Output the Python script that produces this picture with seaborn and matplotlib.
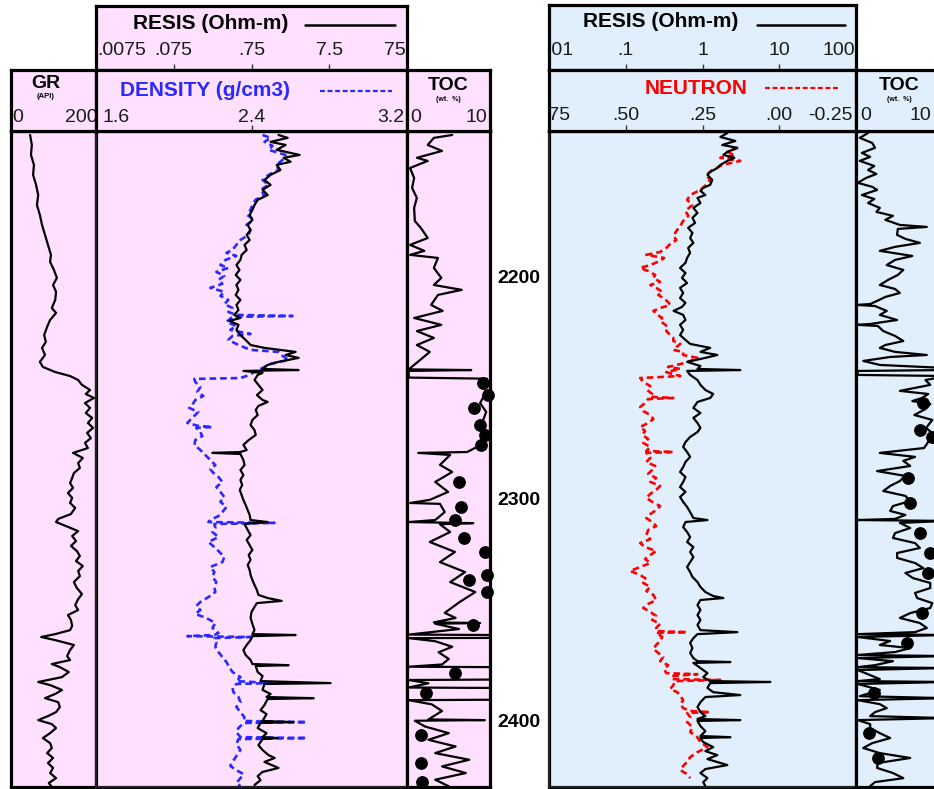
import matplotlib
matplotlib.use("Agg")
import matplotlib.pyplot as plt
import matplotlib.transforms as mtransforms
from matplotlib.ticker import NullLocator
import seaborn as sns

# ---------------- data (depth in m) ----------------
gr_depth = [2135.0, 2139.5, 2144.0, 2148.5, 2153.0, 2157.5, 2162.1, 2166.6, 2171.1, 2175.6,
            2180.1, 2184.6, 2189.1, 2192.3, 2195.9, 2199.5, 2202.7, 2205.8, 2209.5, 2213.1,
            2215.3, 2218.5, 2221.6, 2225.3, 2228.4, 2231.1, 2234.3, 2237.4, 2239.7, 2242.0,
            2243.8, 2245.6, 2247.8, 2250.1, 2251.9, 2253.7, 2256.0, 2258.2, 2260.5, 2262.7,
            2265.0, 2267.2, 2269.5, 2271.8, 2274.0, 2276.3, 2278.5, 2280.8, 2283.1, 2285.3,
            2287.6, 2289.8, 2292.1, 2294.3, 2296.6, 2298.8, 2301.1, 2303.3, 2306.1, 2308.3,
            2309.7, 2311.5, 2313.8, 2316.0, 2318.3, 2320.5, 2322.8, 2325.0, 2327.3, 2329.6,
            2331.8, 2334.1, 2336.8, 2339.5, 2342.2, 2344.5, 2347.2, 2349.4, 2351.7, 2353.9,
            2356.6, 2358.5, 2360.3, 2361.6, 2363.0, 2365.2, 2367.5, 2370.2, 2372.0, 2373.8,
            2375.2, 2377.4, 2379.7, 2381.9, 2383.3, 2385.5, 2387.3, 2389.2, 2391.0, 2393.2,
            2395.5, 2397.3, 2399.1, 2400.9, 2402.7, 2405.0, 2407.2, 2409.5, 2411.7, 2414.0,
            2416.2, 2418.5, 2420.7, 2423.0, 2425.3, 2427.5, 2429.3]
gr_api = [45, 49, 47, 54, 52, 59, 64, 61, 68, 73,
          80, 87, 94, 92, 101, 108, 99, 106, 104, 96,
          106, 92, 85, 78, 82, 73, 80, 68, 75, 104,
          139, 158, 167, 186, 176, 195, 174, 186, 176, 191,
          181, 193, 179, 188, 174, 181, 146, 169, 158, 162,
          148, 144, 139, 146, 134, 144, 139, 151, 141, 111,
          106, 129, 158, 144, 153, 141, 155, 162, 153, 169,
          158, 162, 148, 155, 167, 158, 151, 158, 134, 141,
          144, 139, 104, 71, 104, 148, 139, 132, 139, 96,
          115, 136, 120, 64, 92, 120, 104, 80, 111, 115,
          106, 87, 64, 96, 106, 92, 75, 92, 96, 85,
          99, 87, 99, 92, 106, 89, 96]

res_l_depth = [2135.0, 2136.3, 2138.1, 2139.5, 2141.7, 2144.0, 2145.3, 2147.1, 2148.5, 2150.8,
               2153.0, 2155.3, 2157.5, 2159.8, 2162.1, 2164.3, 2166.6, 2168.8, 2171.1, 2173.3,
               2175.6, 2177.9, 2180.1, 2182.4, 2184.6, 2186.9, 2189.1, 2191.4, 2193.7, 2195.9,
               2198.2, 2200.4, 2202.7, 2204.9, 2207.2, 2209.5, 2211.7, 2214.0, 2216.2, 2217.6,
               2218.9, 2220.7, 2223.0, 2225.3, 2227.5, 2229.8, 2231.1, 2232.9, 2234.3, 2235.6,
               2237.4, 2238.8, 2240.6, 2241.1, 2241.5, 2242.4, 2243.3, 2245.6, 2247.8, 2250.1,
               2252.4, 2254.6, 2255.5, 2257.3, 2259.1, 2261.4, 2263.6, 2265.9, 2268.2, 2270.4,
               2272.7, 2274.9, 2277.2, 2278.1, 2278.5, 2279.0, 2281.7, 2284.0, 2286.2, 2288.5,
               2290.7, 2293.0, 2295.2, 2297.5, 2299.8, 2302.0, 2304.3, 2306.5, 2308.8, 2309.7,
               2310.6, 2313.3, 2315.6, 2317.8, 2320.1, 2322.3, 2324.6, 2326.8, 2329.1, 2331.4,
               2333.6, 2335.9, 2338.1, 2340.4, 2342.6, 2344.0, 2345.3, 2346.3, 2348.0, 2350.3,
               2353.0, 2355.7, 2358.5, 2360.3, 2360.7, 2361.2, 2363.0, 2365.2, 2367.5, 2369.7,
               2372.0, 2373.8, 2374.3, 2374.7, 2377.4, 2379.2, 2381.5, 2382.4, 2382.8, 2385.5,
               2387.3, 2388.7, 2389.2, 2389.6, 2392.3, 2394.6, 2396.4, 2399.5, 2400.0, 2400.4,
               2402.7, 2405.0, 2406.8, 2407.2, 2407.7, 2410.4, 2412.6, 2414.9, 2416.2, 2418.0,
               2420.7, 2422.5, 2424.4, 2426.2, 2428.4]
res_l_ohmm = [1.67, 2.19, 1.32, 2.06, 1.58, 3.12, 1.94, 2.39, 1.58, 1.77,
              1.32, 1.10, 1.32, 1.04, 1.21, 0.90, 0.82, 0.77, 0.71, 0.77,
              0.67, 0.73, 0.65, 0.71, 0.61, 0.65, 0.56, 0.54, 0.48, 0.525,
              0.47, 0.54, 0.48, 0.51, 0.47, 0.54, 0.48, 0.51, 0.45, 0.54,
              0.39, 0.51, 0.48, 0.54, 0.63, 0.73, 1.10, 2.77, 2.06, 3.03,
              1.67, 1.21, 1.04, 3.03, 0.59, 1.04, 0.90, 0.82, 0.92, 1.04,
              0.88, 1.04, 1.21, 0.92, 0.85, 0.90, 0.77, 0.73, 0.82, 0.85,
              0.69, 0.59, 0.65, 0.54, 0.235, 0.54, 0.59, 0.61, 0.54, 0.59,
              0.54, 0.57, 0.53, 0.56, 0.59, 0.63, 0.67, 0.71, 0.73, 1.21,
              0.61, 0.67, 0.73, 0.65, 0.71, 0.77, 0.69, 0.73, 0.67, 0.71,
              0.73, 0.77, 0.82, 0.88, 0.92, 1.21, 1.83, 0.88, 0.82, 0.75,
              0.73, 0.77, 0.82, 0.77, 2.77, 0.77, 0.73, 0.65, 0.59, 0.63,
              0.73, 0.77, 2.25, 0.85, 0.90, 1.04, 0.98, 7.8, 1.10, 1.04,
              1.32, 1.17, 4.73, 1.21, 1.10, 0.98, 1.17, 1.04, 2.61, 0.98,
              0.90, 1.17, 1.04, 1.62, 1.04, 0.92, 1.04, 1.24, 1.49, 1.10,
              1.67, 1.04, 0.90, 0.98, 0.82]

den_depth = [2135.0, 2136.3, 2138.1, 2139.9, 2141.7, 2144.0, 2146.2, 2148.5, 2150.8, 2153.0,
             2155.3, 2157.5, 2159.8, 2162.1, 2164.3, 2166.6, 2168.8, 2171.1, 2173.3, 2175.6,
             2177.9, 2180.1, 2182.4, 2184.6, 2186.9, 2188.2, 2189.6, 2191.4, 2193.7, 2195.0,
             2196.8, 2198.6, 2200.4, 2202.2, 2204.0, 2205.8, 2207.6, 2209.5, 2211.3, 2213.1,
             2214.9, 2216.2, 2216.7, 2217.1, 2219.4, 2221.2, 2223.0, 2224.8, 2225.7, 2227.5,
             2229.8, 2232.0, 2232.9, 2234.7, 2236.5, 2238.3, 2241.1, 2243.8, 2244.7, 2245.1,
             2246.5, 2248.7, 2251.0, 2252.8, 2254.6, 2256.9, 2258.2, 2260.0, 2261.8, 2263.6,
             2265.0, 2266.3, 2266.8, 2267.2, 2269.1, 2270.9, 2272.7, 2274.9, 2277.2, 2279.4,
             2281.7, 2284.0, 2285.8, 2287.1, 2289.4, 2291.6, 2293.9, 2296.1, 2298.4, 2300.6,
             2302.9, 2305.2, 2307.0, 2308.8, 2309.7, 2310.1, 2310.6, 2312.4, 2314.2, 2316.5,
             2318.7, 2321.0, 2323.2, 2325.5, 2327.8, 2330.0, 2332.3, 2334.5, 2336.8, 2339.0,
             2341.3, 2343.6, 2345.8, 2347.6, 2349.4, 2351.2, 2353.0, 2355.3, 2357.5, 2359.8,
             2360.7, 2361.2, 2361.6, 2362.1, 2363.9, 2366.1, 2368.4, 2370.6, 2372.9, 2375.2,
             2377.4, 2379.7, 2381.5, 2382.4, 2382.8, 2384.6, 2386.5, 2388.7, 2391.0, 2393.2,
             2395.5, 2397.8, 2399.5, 2400.0, 2400.4, 2402.7, 2404.5, 2406.8, 2407.2, 2407.7,
             2409.9, 2412.6, 2415.4, 2418.0, 2419.8, 2421.7, 2423.5, 2425.3, 2427.5, 2428.9]
den_gcc = [2.457, 2.498, 2.467, 2.508, 2.488, 2.575, 2.560, 2.529, 2.539, 2.488,
           2.457, 2.488, 2.446, 2.467, 2.420, 2.405, 2.395, 2.379, 2.410, 2.374,
           2.395, 2.384, 2.343, 2.322, 2.302, 2.271, 2.322, 2.266, 2.240, 2.281,
           2.219, 2.260, 2.230, 2.250, 2.188, 2.260, 2.240, 2.281, 2.260, 2.302,
           2.281, 2.322, 2.611, 2.302, 2.271, 2.322, 2.291, 2.395, 2.302, 2.281,
           2.333, 2.395, 2.539, 2.560, 2.591, 2.498, 2.436, 2.374, 2.343, 2.106,
           2.111, 2.137, 2.121, 2.152, 2.111, 2.095, 2.080, 2.126, 2.106, 2.085,
           2.070, 2.126, 2.199, 2.116, 2.137, 2.147, 2.111, 2.106, 2.137, 2.162,
           2.188, 2.214, 2.188, 2.199, 2.230, 2.250, 2.219, 2.240, 2.260, 2.240,
           2.271, 2.250, 2.230, 2.188, 2.178, 2.518, 2.209, 2.214, 2.199, 2.230,
           2.178, 2.209, 2.235, 2.260, 2.250, 2.188, 2.209, 2.199, 2.219, 2.209,
           2.214, 2.178, 2.137, 2.116, 2.137, 2.111, 2.168, 2.214, 2.199, 2.230,
           2.209, 2.070, 2.395, 2.209, 2.219, 2.214, 2.230, 2.250, 2.271, 2.286,
           2.302, 2.343, 2.322, 2.503, 2.322, 2.302, 2.307, 2.333, 2.343, 2.322,
           2.343, 2.364, 2.359, 2.684, 2.359, 2.333, 2.322, 2.343, 2.684, 2.333,
           2.322, 2.343, 2.322, 2.302, 2.291, 2.322, 2.359, 2.343, 2.322, 2.343]

toc_l_depth = [2135.0, 2136.3, 2139.5, 2142.2, 2145.3, 2146.7, 2149.9, 2154.4, 2158.9, 2163.4,
               2167.9, 2173.8, 2177.0, 2181.5, 2184.6, 2187.3, 2189.1, 2190.5, 2195.0, 2199.5,
               2202.7, 2204.9, 2207.2, 2211.7, 2214.4, 2217.6, 2220.7, 2223.5, 2226.6, 2229.8,
               2232.9, 2236.5, 2240.8, 2241.1, 2241.5, 2244.5, 2245.0, 2246.5, 2251.0, 2256.0,
               2260.0, 2265.0, 2270.4, 2274.9, 2278.1, 2278.5, 2279.4, 2283.9, 2287.1, 2291.6,
               2296.1, 2299.7, 2301.1, 2301.5, 2305.2, 2308.8, 2309.7, 2310.2, 2310.7, 2314.2,
               2318.7, 2323.2, 2327.8, 2332.3, 2336.8, 2341.3, 2345.8, 2350.7, 2353.0, 2355.0,
               2355.3, 2355.6, 2358.0, 2360.5, 2360.7, 2362.0, 2362.1, 2363.5, 2366.0, 2368.5,
               2371.5, 2374.0, 2375.0, 2375.2, 2380.8, 2381.0, 2382.5, 2384.4, 2384.6, 2389.9,
               2390.1, 2392.0, 2395.0, 2398.8, 2399.1, 2399.4, 2402.0, 2405.0, 2408.0, 2411.0,
               2414.0, 2417.0, 2420.0, 2423.0, 2426.0, 2429.0]
toc_l_wt = [6.5, 3.8, 2.9, 5.0, 1.3, 2.9, 0.3, 0.9, 0.6, 1.3,
            0.9, 1.0, 1.9, 2.9, 0.3, 2.4, 0.3, 4.4, 3.8, 4.9,
            3.8, 7.9, 4.4, 3.4, 5.1, 0.9, 4.9, 1.3, 3.8, 1.3,
            3.2, 1.8, 0.1, 9.3, 0.1, 0.1, 11.6, 10.9, 11.5, 10.6,
            11.5, 10.9, 11.3, 10.7, 8.7, 1.5, 6.2, 4.7, 6.5, 4.0,
            5.9, 3.2, 0.3, 4.7, 5.4, 4.0, 0.1, 9.6, 4.7, 6.2,
            3.2, 6.9, 4.7, 8.4, 6.2, 9.9, 7.6, 5.4, 7.0, 3.8,
            10.6, 4.0, 7.5, 0.1, 13, 13, 0.1, 4.0, 6.5, 4.5,
            6.0, 5.0, 0.1, 13, 13, 0.1, 3.0, 0.1, 13, 13,
            0.1, 3.5, 5.0, 3.0, 11.3, 1.0, 2.5, 6.0, 3.0, 7.0,
            4.0, 9.0, 5.0, 8.5, 4.0, 6.0]

core_l_depth = [2246.9, 2252.3, 2258.2, 2265.9, 2270.4, 2274.9, 2291.6, 2302.9, 2308.8, 2316.9,
                2323.2, 2333.6, 2335.9, 2341.3, 2356.2, 2377.9, 2386.9, 2405.9, 2418.5, 2427.1]
core_l_toc = [11.0, 11.8, 9.7, 10.6, 11.3, 10.7, 7.5, 7.8, 6.9, 8.2,
              11.3, 11.6, 9.0, 11.6, 9.6, 6.9, 2.6, 1.9, 1.9, 2.1]

res_r_depth = [2134.1, 2135.9, 2137.7, 2139.5, 2140.8, 2142.6, 2144.0, 2145.3, 2146.7, 2148.5,
               2149.9, 2151.7, 2153.0, 2155.3, 2157.5, 2158.9, 2160.2, 2162.1, 2163.4, 2165.7,
               2167.9, 2170.2, 2172.4, 2174.7, 2176.9, 2179.2, 2181.5, 2183.7, 2186.0, 2188.2,
               2190.5, 2192.7, 2195.0, 2197.3, 2199.5, 2201.8, 2204.0, 2206.3, 2208.6, 2210.8,
               2212.6, 2214.4, 2216.2, 2218.5, 2220.7, 2223.0, 2225.3, 2227.5, 2229.3, 2231.1,
               2232.9, 2234.3, 2235.6, 2237.4, 2239.3, 2240.6, 2241.1, 2241.5, 2243.3, 2245.6,
               2247.8, 2250.1, 2251.9, 2253.7, 2255.5, 2258.2, 2260.5, 2262.7, 2265.0, 2267.2,
               2269.1, 2271.3, 2273.6, 2275.8, 2278.1, 2280.3, 2282.6, 2284.9, 2287.1, 2289.4,
               2291.6, 2293.9, 2296.1, 2298.4, 2300.6, 2302.9, 2305.2, 2307.9, 2308.8, 2309.7,
               2312.0, 2314.2, 2316.5, 2318.7, 2321.0, 2323.2, 2325.5, 2327.8, 2330.0, 2332.3,
               2334.5, 2336.8, 2339.0, 2341.3, 2343.1, 2344.0, 2344.9, 2347.2, 2349.4, 2351.7,
               2353.9, 2356.2, 2358.5, 2359.4, 2360.3, 2362.1, 2364.3, 2366.6, 2368.8, 2371.1,
               2372.5, 2372.9, 2373.3, 2375.6, 2377.9, 2379.7, 2381.5, 2381.9, 2382.4, 2384.6,
               2386.5, 2387.8, 2388.7, 2391.0, 2393.2, 2395.5, 2397.3, 2398.6, 2399.1, 2399.5,
               2401.8, 2404.1, 2406.3, 2406.8, 2407.2, 2409.0, 2411.3, 2413.1, 2414.9, 2416.7,
               2419.4, 2421.2, 2423.0, 2425.3, 2427.1, 2428.9]
res_r_ohmm = [2.11, 1.71, 2.68, 1.81, 2.85, 2.11, 1.87, 2.60, 2.11, 1.71,
              1.56, 1.26, 1.16, 1.34, 1.26, 1.02, 0.94, 1.09, 0.86, 0.94,
              0.76, 0.86, 0.74, 0.80, 0.65, 0.74, 0.69, 0.76, 0.65, 0.69,
              0.63, 0.60, 0.51, 0.60, 0.54, 0.63, 0.51, 0.56, 0.51, 0.60,
              0.54, 0.42, 0.56, 0.60, 0.51, 0.56, 0.51, 0.60, 0.69, 1.26,
              0.94, 1.56, 1.09, 0.63, 0.94, 0.86, 3.11, 0.63, 0.69, 0.86,
              0.94, 1.09, 1.38, 1.26, 0.86, 0.76, 0.94, 0.76, 0.86, 0.94,
              0.86, 0.69, 0.60, 0.56, 0.63, 0.69, 0.60, 0.56, 0.51, 0.60,
              0.56, 0.51, 0.60, 0.51, 0.56, 0.63, 0.69, 0.76, 1.16, 0.60,
              0.56, 0.63, 0.69, 0.63, 0.76, 0.69, 0.76, 0.69, 0.63, 0.69,
              0.74, 0.86, 0.94, 1.09, 1.38, 1.87, 0.94, 0.86, 0.94, 0.86,
              0.94, 0.86, 0.94, 2.85, 0.86, 0.76, 0.69, 0.74, 0.69, 0.76,
              0.86, 2.31, 0.76, 0.94, 1.16, 1.02, 1.26, 7.67, 1.26, 1.16,
              1.38, 3.11, 1.09, 0.94, 0.86, 0.94, 1.09, 0.86, 3.11, 0.86,
              0.94, 1.09, 0.94, 2.31, 0.94, 1.02, 1.38, 1.09, 1.56, 1.16,
              2.11, 1.09, 0.94, 1.16, 1.02, 1.09]

neu_depth = [2140.8, 2142.6, 2144.4, 2145.3, 2146.7, 2148.5, 2150.8, 2153.0, 2155.3, 2157.5,
             2159.8, 2162.1, 2164.3, 2166.6, 2169.3, 2171.5, 2173.8, 2176.0, 2178.3, 2180.6,
             2182.4, 2184.2, 2186.0, 2187.8, 2189.1, 2190.5, 2191.8, 2193.7, 2195.0, 2196.4,
             2198.2, 2199.5, 2201.3, 2202.7, 2204.0, 2205.8, 2207.2, 2208.6, 2210.4, 2211.7,
             2213.1, 2214.4, 2216.2, 2217.6, 2218.9, 2220.7, 2222.1, 2223.5, 2225.3, 2226.6,
             2228.0, 2229.3, 2230.7, 2232.0, 2232.9, 2234.3, 2235.6, 2237.0, 2238.4, 2239.7,
             2240.6, 2242.0, 2242.9, 2243.8, 2244.7, 2246.5, 2248.3, 2250.1, 2251.9, 2253.2,
             2253.7, 2254.2, 2256.0, 2257.8, 2259.6, 2261.4, 2263.2, 2265.0, 2266.8, 2268.6,
             2270.4, 2272.2, 2274.0, 2275.8, 2277.6, 2278.1, 2278.5, 2280.8, 2282.6, 2284.4,
             2286.2, 2288.0, 2289.8, 2291.6, 2293.4, 2295.2, 2297.0, 2298.8, 2300.6, 2302.5,
             2304.3, 2306.1, 2307.9, 2309.7, 2311.5, 2313.3, 2315.6, 2317.4, 2319.2, 2321.0,
             2322.8, 2324.6, 2326.4, 2328.2, 2330.0, 2331.8, 2333.6, 2335.4, 2337.2, 2339.0,
             2340.8, 2342.6, 2344.9, 2346.7, 2348.5, 2350.3, 2352.1, 2353.9, 2355.7, 2357.5,
             2358.9, 2359.4, 2359.8, 2361.6, 2363.4, 2365.2, 2367.0, 2368.8, 2370.6, 2372.5,
             2374.3, 2376.1, 2377.9, 2378.4, 2379.2, 2380.6, 2381.0, 2381.5, 2383.3, 2385.1,
             2386.5, 2388.3, 2390.1, 2391.9, 2393.7, 2395.0, 2395.5, 2395.9, 2397.8, 2400.0,
             2402.2, 2404.5, 2406.8, 2409.0, 2411.3, 2413.6, 2415.8, 2418.0, 2419.8, 2421.7,
             2423.5, 2425.3]
neu_frac = [0.136, 0.169, 0.143, 0.192, 0.127, 0.185, 0.218, 0.238, 0.225, 0.238,
            0.257, 0.290, 0.300, 0.283, 0.306, 0.296, 0.313, 0.322, 0.335, 0.345,
            0.335, 0.355, 0.368, 0.388, 0.433, 0.375, 0.388, 0.420, 0.453, 0.427,
            0.404, 0.410, 0.388, 0.420, 0.401, 0.381, 0.394, 0.378, 0.362, 0.355,
            0.388, 0.410, 0.397, 0.381, 0.388, 0.371, 0.362, 0.368, 0.355, 0.345,
            0.345, 0.322, 0.335, 0.345, 0.313, 0.313, 0.267, 0.290, 0.322, 0.362,
            0.322, 0.368, 0.349, 0.322, 0.453, 0.443, 0.420, 0.430, 0.414, 0.420,
            0.345, 0.427, 0.437, 0.453, 0.443, 0.420, 0.410, 0.427, 0.453, 0.437,
            0.446, 0.427, 0.443, 0.420, 0.433, 0.345, 0.433, 0.420, 0.433, 0.404,
            0.414, 0.427, 0.401, 0.420, 0.388, 0.401, 0.420, 0.433, 0.414, 0.388,
            0.401, 0.420, 0.433, 0.414, 0.401, 0.427, 0.433, 0.420, 0.453, 0.437,
            0.401, 0.420, 0.437, 0.420, 0.453, 0.486, 0.453, 0.433, 0.443, 0.420,
            0.433, 0.410, 0.401, 0.427, 0.443, 0.420, 0.401, 0.414, 0.388, 0.401,
            0.401, 0.300, 0.401, 0.381, 0.388, 0.401, 0.410, 0.394, 0.378, 0.388,
            0.362, 0.375, 0.368, 0.267, 0.349, 0.349, 0.192, 0.339, 0.345, 0.355,
            0.332, 0.322, 0.313, 0.322, 0.313, 0.290, 0.225, 0.300, 0.290, 0.300,
            0.283, 0.290, 0.267, 0.257, 0.234, 0.267, 0.290, 0.300, 0.313, 0.322,
            0.300, 0.290]

toc_r_depth = [2134.1, 2136.3, 2138.6, 2140.8, 2143.1, 2144.9, 2146.7, 2149.0, 2150.8, 2152.6,
               2154.4, 2156.6, 2158.4, 2159.8, 2162.1, 2163.9, 2165.7, 2167.9, 2169.7, 2171.5,
               2173.3, 2175.6, 2176.5, 2177.4, 2180.1, 2181.9, 2183.7, 2185.5, 2187.3, 2189.6,
               2191.4, 2193.7, 2195.9, 2198.2, 2200.4, 2202.7, 2204.5, 2206.3, 2208.1, 2209.9,
               2211.3, 2211.7, 2212.2, 2214.4, 2216.2, 2218.5, 2220.3, 2220.7, 2221.2, 2223.5,
               2225.7, 2228.0, 2229.8, 2231.1, 2232.9, 2234.3, 2235.2, 2237.0, 2238.8, 2240.2,
               2241.1, 2241.5, 2243.3, 2243.8, 2245.6, 2247.8, 2250.5, 2251.9, 2253.7, 2255.1,
               2256.4, 2258.7, 2261.4, 2263.6, 2267.2, 2270.4, 2273.6, 2276.3, 2278.5, 2280.3,
               2282.1, 2284.4, 2286.7, 2288.9, 2291.2, 2293.4, 2295.7, 2297.9, 2300.2, 2302.5,
               2304.7, 2306.5, 2308.3, 2308.8, 2309.2, 2310.1, 2312.4, 2314.7, 2316.9, 2319.2,
               2321.4, 2323.7, 2325.9, 2328.2, 2330.5, 2332.7, 2335.0, 2337.2, 2339.5, 2341.7,
               2344.0, 2346.3, 2348.5, 2350.8, 2353.0, 2355.3, 2357.5, 2359.4, 2360.3, 2360.7,
               2361.6, 2363.4, 2365.2, 2366.6, 2368.4, 2369.7, 2370.2, 2371.1, 2372.5, 2374.3,
               2375.2, 2375.6, 2376.5, 2378.8, 2380.6, 2381.5, 2381.9, 2382.8, 2385.5, 2388.3,
               2389.2, 2390.1, 2391.9, 2393.7, 2395.5, 2397.3, 2398.2, 2399.1, 2400.9, 2402.7,
               2405.0, 2407.2, 2409.5, 2411.7, 2414.0, 2416.2, 2418.5, 2420.7, 2423.0, 2425.3,
               2427.1, 2428.9]
toc_r_wt = [1.6, 0.4, 2.2, 2.6, 0.7, 1.9, 0.4, 2.5, 1.6, 2.8,
            1.3, 0.1, 2.2, 2.9, 0.7, 2.5, 1.6, 3.3, 2.8, 5.2,
            4.1, 6.2, 10.1, 5.9, 5.8, 7.0, 9.1, 5.5, 3.3, 8.0,
            5.5, 4.3, 6.7, 5.9, 4.5, 3.3, 5.5, 6.2, 4.1, 2.9,
            1.9, 0.0, 2.6, 4.3, 3.3, 5.8, 1.9, 0.0, 3.0, 3.8,
            5.5, 6.7, 4.1, 3.3, 5.5, 10.1, 4.8, 0.9, 3.3, 13,
            13, 0.1, 0.1, 13, 9.9, 10.6, 6.2, 10.3, 9.4, 8.0,
            10.6, 9.9, 8.3, 10.9, 10.0, 11.2, 10.3, 9.7, 3.3, 8.4,
            6.7, 7.7, 2.9, 7.0, 6.2, 4.8, 3.8, 7.0, 7.7, 5.2,
            4.8, 7.0, 5.5, 0.0, 13, 6.2, 7.7, 5.5, 5.2, 8.4,
            9.1, 5.8, 5.8, 8.4, 9.6, 7.0, 8.1, 10.6, 10.6, 8.4,
            8.7, 10.9, 10.6, 7.7, 6.2, 9.1, 10.1, 8.4, 0.1, 13,
            0.1, 4.8, 3.3, 7.7, 5.5, 0.1, 13, 0.1, 5.2, 2.6,
            0.1, 13, 0.1, 1.9, 3.3, 0.1, 13, 0.1, 3.3, 0.4,
            13, 0.1, 3.3, 4.3, 2.6, 1.9, 13, 0.1, 1.9, 1.9,
            3.3, 4.8, 2.2, 0.9, 3.3, 7.7, 3.0, 2.9, 5.2, 6.7,
            2.6, 1.9]

core_r_depth = [2256.0, 2268.2, 2271.3, 2289.8, 2301.1, 2314.7, 2323.7, 2332.7, 2350.8, 2364.3,
                2386.9, 2405.0, 2416.3]
core_r_toc = [9.6, 9.1, 10.9, 7.4, 7.7, 9.1, 10.6, 10.3, 9.4, 7.2,
              2.5, 1.7, 3.0]

depth_labels = [2200, 2300, 2400]

# ---------------- layout ----------------
W, H = 934, 789
PINK = '#ffe1ff'
SKY = '#e1effc'
DEN_BLUE = '#2a2aff'
TOP_DEPTH, BASE_DEPTH = 2133.2, 2429.3
Y_TOP, Y_BOT = 131, 787

sns.set_theme(style='white')
plt.rcParams['font.family'] = ['Liberation Sans', 'DejaVu Sans']
plt.rcParams['text.color'] = 'black'

fig = plt.figure(figsize=(W / 100, H / 100), dpi=100)


def bare(ax):
    ax.xaxis.set_minor_locator(NullLocator())
    ax.tick_params(which='both', bottom=False, top=False, left=False, right=False,
                   labelbottom=False, labeltop=False, labelleft=False, labelright=False)
    ax.set_xlabel('')
    ax.set_ylabel('')


def box(x0, y0, x1, y1, bg, lw=2.3):
    ax = fig.add_axes([x0 / W, 1 - y1 / H, (x1 - x0) / W, (y1 - y0) / H])
    ax.set_facecolor(bg)
    for s in ax.spines.values():
        s.set_visible(True)
        s.set_linewidth(lw)
        s.set_color('black')
    ax.set_xticks([])
    ax.set_yticks([])
    return ax


def track(x0, x1, bg, xlim, scale='linear'):
    ax = box(x0, Y_TOP, x1, Y_BOT, bg)
    ax.set_xscale(scale)
    ax.set_xlim(*xlim)
    ax.set_ylim(BASE_DEPTH, TOP_DEPTH)
    return ax


def curve(ax, vals, depth, **kw):
    kw.setdefault('color', 'black')
    kw.setdefault('lw', 1.6)
    sns.lineplot(x=vals, y=depth, sort=False, estimator=None, ax=ax, **kw)


def header_labels(ax, items, y):
    tr = mtransforms.blended_transform_factory(ax.transData, ax.transAxes)
    for val, txt, ha in items:
        ax.text(val, y, txt, transform=tr, ha=ha, va='center', fontsize=14,
                color='#1a1a1a', clip_on=True)


def header_ticks(ax, ticks):
    ax.set_xticks(ticks)
    ax.xaxis.set_minor_locator(NullLocator())
    ax.tick_params(axis='x', which='major', direction='in', length=4, width=1,
                   bottom=True, labelbottom=False, color='#333333')


# ---------- left panel: GR | RESIS + DENSITY | TOC ----------
gr_ax = track(11, 96, PINK, (0, 200))
curve(gr_ax, gr_api, gr_depth)
bare(gr_ax)

den_ax = track(96, 407, PINK, (1.6, 3.2))
curve(den_ax, den_gcc, den_depth, color=DEN_BLUE, lw=1.9, linestyle=(0, (2.5, 1.5)))
bare(den_ax)
resl_ax = den_ax.twiny()
resl_ax.set_xscale('log')
resl_ax.set_xlim(0.0075, 75)
curve(resl_ax, res_l_ohmm, res_l_depth)
resl_ax.set_ylim(BASE_DEPTH, TOP_DEPTH)
bare(resl_ax)

tocl_ax = track(407, 490, PINK, (-0.15, 12.06))
curve(tocl_ax, toc_l_wt, toc_l_depth)
sns.scatterplot(x=core_l_toc, y=core_l_depth, s=85, color='black', edgecolor='black',
                linewidth=0, ax=tocl_ax, clip_on=False, zorder=5)
bare(tocl_ax)

# depth column
dep_ax = fig.add_axes([490 / W, 1 - Y_BOT / H, 58 / W, (Y_BOT - Y_TOP) / H])
dep_ax.set_ylim(BASE_DEPTH, TOP_DEPTH)
dep_ax.axis('off')
for d in depth_labels:
    dep_ax.text(0.5, d, str(d), ha='center', va='center', fontsize=14, fontweight='bold',
                transform=mtransforms.blended_transform_factory(dep_ax.transAxes, dep_ax.transData))

# ---------- right panel: RESIS + NEUTRON | TOC ----------
neu_ax = track(549, 856, SKY, (0.75, -0.25))
curve(neu_ax, neu_frac, neu_depth, color='red', lw=1.9, linestyle=(0, (2.5, 1.5)))
bare(neu_ax)
resr_ax = neu_ax.twiny()
resr_ax.set_xscale('log')
resr_ax.set_xlim(0.01, 100)
curve(resr_ax, res_r_ohmm, res_r_depth)
resr_ax.set_ylim(BASE_DEPTH, TOP_DEPTH)
bare(resr_ax)

tocr_ax = track(856, 942, SKY, (-0.15, 12.3))
curve(tocr_ax, toc_r_wt, toc_r_depth)
sns.scatterplot(x=core_r_toc, y=core_r_depth, s=85, color='black', edgecolor='black',
                linewidth=0, ax=tocr_ax, zorder=5)
bare(tocr_ax)

# ---------- headers ----------
# left resistivity scale box
h = box(96, 6, 407, 70, PINK)
h.set_xscale('log')
h.set_xlim(0.0075, 75)
h.text(0.119, 0.72, 'RESIS (Ohm-m)', transform=h.transAxes, fontsize=15, fontweight='bold',
       va='center', ha='left')
h.plot([0.672, 0.961], [0.70, 0.70], transform=h.transAxes, color='black', lw=1.8)
header_labels(h, [(0.0078, '.0075', 'left'), (0.075, '.075', 'center'), (0.75, '.75', 'center'),
                  (7.5, '7.5', 'center'), (73, '75', 'right')], 0.30)
header_ticks(h, [0.075, 0.75, 7.5])

h = box(11, 70, 96, 131, PINK)
h.set_xlim(0, 200)
h.text(0.41, 0.78, 'GR', transform=h.transAxes, fontsize=14, fontweight='bold', ha='center', va='center')
h.text(0.41, 0.56, '(API)', transform=h.transAxes, fontsize=5.5, fontweight='bold', ha='center', va='center')
header_labels(h, [(4, '0', 'left'), (204, '200', 'right')], 0.22)

h = box(96, 70, 407, 131, PINK)
h.set_xlim(1.6, 3.2)
h.text(0.077, 0.66, 'DENSITY (g/cm3)', transform=h.transAxes, fontsize=15, fontweight='bold',
       color=DEN_BLUE, ha='left', va='center')
h.plot([0.720, 0.952], [0.66, 0.66], transform=h.transAxes, color=DEN_BLUE, lw=1.6,
       linestyle=(0, (2.2, 1.2)))
header_labels(h, [(1.635, '1.6', 'left'), (2.4, '2.4', 'center'), (3.185, '3.2', 'right')], 0.22)
header_ticks(h, [2.4])

h = box(407, 70, 490, 131, PINK)
h.set_xlim(-0.15, 12.06)
h.text(0.5, 0.74, 'TOC', transform=h.transAxes, fontsize=14, fontweight='bold', ha='center', va='center')
h.text(0.5, 0.52, '(wt.  %)', transform=h.transAxes, fontsize=5, fontweight='bold', ha='center', va='center')
header_labels(h, [(0.4, '0', 'left'), (10, '10', 'center')], 0.22)

# right resistivity scale box
h = box(549, 5, 856, 70, SKY)
h.set_xscale('log')
h.set_xlim(0.01, 100)
h.text(0.111, 0.74, 'RESIS (Ohm-m)', transform=h.transAxes, fontsize=15, fontweight='bold',
       va='center', ha='left')
h.plot([0.678, 0.964], [0.70, 0.70], transform=h.transAxes, color='black', lw=1.8)
header_labels(h, [(0.0092, '.01', 'left'), (0.1, '.1', 'center'), (1, '1', 'center'),
                  (10, '10', 'center'), (96, '100', 'right')], 0.30)
header_ticks(h, [0.1, 1, 10])

h = box(549, 70, 856, 131, SKY)
h.set_xlim(0.75, -0.25)
h.text(0.313, 0.70, 'NEUTRON', transform=h.transAxes, fontsize=15, fontweight='bold',
       color='red', ha='left', va='center')
h.plot([0.703, 0.94], [0.70, 0.70], transform=h.transAxes, color='red', lw=1.6,
       linestyle=(0, (2.2, 1.2)))
header_labels(h, [(0.77, '.75', 'left'), (0.5, '.50', 'center'), (0.25, '.25', 'center'),
                  (0.0, '.00', 'center'), (-0.24, '-0.25', 'right')], 0.25)
header_ticks(h, [0.5, 0.25, 0.0])

h = box(856, 70, 942, 131, SKY)
h.set_xlim(-0.15, 12.3)
h.text(0.5, 0.74, 'TOC', transform=h.transAxes, fontsize=14, fontweight='bold', ha='center', va='center')
h.text(0.5, 0.52, '(wt.  %)', transform=h.transAxes, fontsize=5, fontweight='bold', ha='center', va='center')
header_labels(h, [(0.5, '0', 'left'), (9.2, '10', 'center')], 0.25)

fig.savefig('out.png', dpi=100)
